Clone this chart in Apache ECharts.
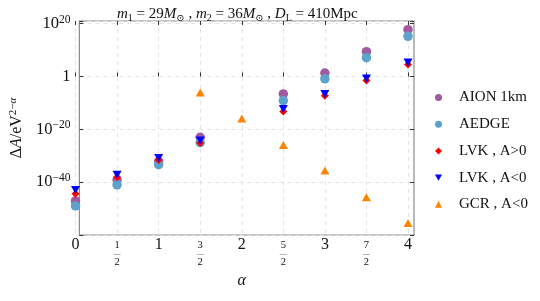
<!DOCTYPE html>
<html><head><meta charset="utf-8">
<script src="https://cdn.jsdelivr.net/npm/echarts@6/dist/echarts.min.js"></script>
<style>html,body{margin:0;padding:0;background:#fff}#c{width:540px;height:301px}</style>
</head><body><div id="c"></div>
<script>
// alpha values (x) and log10 of ΔA (y exponent)
const alphaMain = [0, 0.5, 1, 1.5, 2.5, 3, 3.5, 4];
const aionExp  = [-47.1, -39.1, -32.2, -23.0, -6.6, 1.3, 9.4, 17.7];
const aedgeExp = [-49.0, -41.0, -33.4, -25.0, -9.1, -0.9, 7.1, 15.2];
const lvkPosExp = [-44.4, -38.1, -31.6, -25.2, -13.3, -7.3, -1.5, 4.5];
const lvkNegExp = [-43.0, -37.2, -30.9, -24.2, -12.3, -6.6, -0.8, 5.3];
const alphaGcr = [1.5, 2, 2.5, 3, 3.5, 4];
const gcrExp   = [-6.1, -15.9, -25.9, -35.6, -45.7, -55.5];
const xTickLabels = ['0', '1/2', '1', '3/2', '2', '5/2', '3', '7/2', '4'];
const yTickExps = [20, 0, -20, -40];
const seriesNames = ['AION 1km', 'AEDGE', 'LVK , A>0', 'LVK , A<0', 'GCR , A<0'];

const SERIF = '"Liberation Serif", "DejaVu Serif", serif';
const pairs = (xs, ys) => xs.map((x, i) => [x, ys[i]]);
const downTri = 'path://M0,0L10,0L5,9Z';
const txt = (o) => Object.assign({fontFamily: SERIF, color: '#111', fontWeight: 'normal'}, o);

const chart = echarts.init(document.getElementById('c'), null, {renderer: 'canvas'});
chart.setOption({
  animation: false,
  backgroundColor: '#fff',
  title: {
    left: 112, top: 0,
    text: '{i|m}{sub|1}{n| = 29}{i|M}{sub|⊙}{n| , }{i|m}{sub|2}{n| = 36}{i|M}{sub|⊙}{n| , }{i|D}{sub|L}{n| = 410Mpc}',
    textStyle: {
      fontWeight: 'normal',
      rich: {
        i: txt({fontStyle: 'italic', fontSize: 15, lineHeight: 18}),
        n: txt({fontSize: 15, lineHeight: 18}),
        sub: txt({fontSize: 10, lineHeight: 10, verticalAlign: 'bottom'})
      }
    }
  },
  legend: {
    orient: 'vertical', left: 430, top: 85,
    itemWidth: 7, itemHeight: 7, itemGap: 11.7,
    textStyle: txt({fontSize: 15, lineHeight: 15, padding: [0, 0, 0, 12]}),
    data: [
      {name: seriesNames[0], icon: 'circle'},
      {name: seriesNames[1], icon: 'circle'},
      {name: seriesNames[2], icon: 'diamond'},
      {name: seriesNames[3], icon: downTri},
      {name: seriesNames[4], icon: 'triangle'}
    ]
  },
  grid: [
    {left: 75.5, right: 132, top: 21, bottom: 66},
    {left: 69, right: 126, top: 21, bottom: 66, show: true, borderColor: '#8c8c8c', borderWidth: 1.2, backgroundColor: 'transparent'}
  ],
  xAxis: [
    {
      gridIndex: 0, type: 'value', min: 0, max: 4, interval: 0.5, position: 'bottom',
      name: 'α', nameLocation: 'middle', nameGap: 38,
      nameTextStyle: txt({fontStyle: 'italic', fontSize: 16}),
      axisLine: {show: false},
      axisTick: {show: true, inside: true, length: 4, lineStyle: {color: '#333'}},
      axisLabel: {
        margin: 3,
        formatter: function (v) {
          const k = Math.round(v * 2);
          const s = xTickLabels[k];
          if (s === undefined) return '';
          if (s.indexOf('/') >= 0) {
            const p = s.split('/');
            return '{n|' + p[0] + '}\n{bar|—}\n{d|' + p[1] + '}';
          }
          return '{b|' + s + '}';
        },
        rich: {
          b: txt({fontSize: 16, lineHeight: 14}),
          n: txt({fontSize: 10.5, lineHeight: 14}),
          bar: txt({fontSize: 7, lineHeight: 4}),
          d: txt({fontSize: 10.5, lineHeight: 12})
        }
      },
      splitLine: {show: true, lineStyle: {color: '#e4e4e4', type: [4, 4], width: 1}}
    },
    {
      gridIndex: 0, type: 'value', min: 0, max: 4, interval: 0.5, position: 'top',
      axisLine: {show: false},
      axisTick: {show: true, inside: true, length: 4, lineStyle: {color: '#333'}},
      axisLabel: {show: false}, splitLine: {show: false}
    },
    {gridIndex: 1, type: 'value', min: 0, max: 1, show: false}
  ],
  yAxis: [
    {gridIndex: 0, type: 'value', min: -60, max: 21, show: false},
    {
      gridIndex: 1, type: 'value', min: -60, max: 21, interval: 20, position: 'left',
      name: '{a|Δ}{i|A}{a|/eV}{s|2−}{si|α}', nameLocation: 'middle', nameGap: 45, nameRotate: 90,
      nameTextStyle: {
        rich: {
          a: txt({fontSize: 16, lineHeight: 18}),
          i: txt({fontStyle: 'italic', fontSize: 16, lineHeight: 18}),
          s: txt({fontSize: 11, lineHeight: 10, verticalAlign: 'top'}),
          si: txt({fontStyle: 'italic', fontSize: 11, lineHeight: 10, verticalAlign: 'top'})
        }
      },
      axisLine: {show: false},
      axisTick: {show: true, inside: true, length: 4, lineStyle: {color: '#333'}},
      axisLabel: {
        margin: 9,
        formatter: function (v) {
          if (yTickExps.indexOf(v) < 0) return '';
          if (v === 0) return '{b|1}';
          return '{b|10}{s|' + String(v).replace('-', '−') + '}';
        },
        rich: {
          b: txt({fontSize: 16.5, lineHeight: 20}),
          s: txt({fontSize: 11.5, lineHeight: 10, verticalAlign: 'top'})
        }
      },
      splitLine: {show: true, lineStyle: {color: '#e4e4e4', type: [4, 4], width: 1}}
    },
    {
      gridIndex: 1, type: 'value', min: -60, max: 21, interval: 20, position: 'right',
      axisLine: {show: false},
      axisTick: {show: true, inside: true, length: 4, lineStyle: {color: '#333'}},
      axisLabel: {show: false}, splitLine: {show: false}
    }
  ],
  series: [
    {name: seriesNames[0], type: 'scatter', xAxisIndex: 0, yAxisIndex: 0, clip: false,
     symbol: 'circle', symbolSize: 9.5, itemStyle: {color: '#a3599f', opacity: 1},
     data: pairs(alphaMain, aionExp)},
    {name: seriesNames[1], type: 'scatter', xAxisIndex: 0, yAxisIndex: 0, clip: false,
     symbol: 'circle', symbolSize: 9.5, itemStyle: {color: '#5ca2cd', opacity: 1},
     data: pairs(alphaMain, aedgeExp)},
    {name: seriesNames[2], type: 'scatter', xAxisIndex: 0, yAxisIndex: 0, clip: false,
     symbol: 'diamond', symbolSize: [8, 8], itemStyle: {color: '#ff0000', opacity: 1},
     data: pairs(alphaMain, lvkPosExp)},
    {name: seriesNames[3], type: 'scatter', xAxisIndex: 0, yAxisIndex: 0, clip: false,
     symbol: downTri, symbolSize: [9, 8], itemStyle: {color: '#0000ff', opacity: 1},
     data: pairs(alphaMain, lvkNegExp)},
    {name: seriesNames[4], type: 'scatter', xAxisIndex: 0, yAxisIndex: 0, clip: false,
     symbol: 'triangle', symbolSize: [9, 8], itemStyle: {color: '#ff8400', opacity: 1},
     data: pairs(alphaGcr, gcrExp)}
  ]
});
</script>
</body></html>
